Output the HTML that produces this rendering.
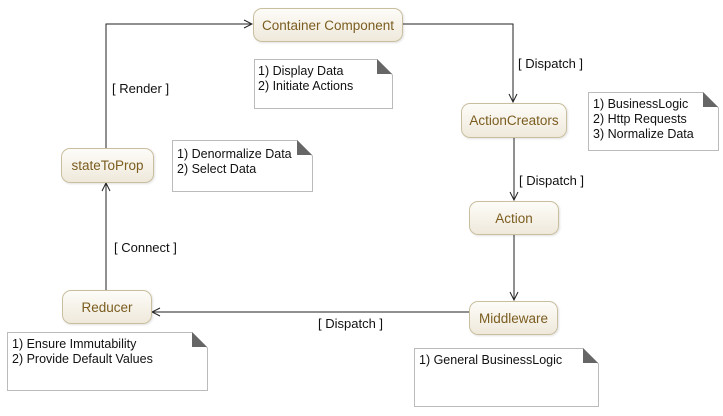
<!DOCTYPE html><html><head><style>
body{margin:0;width:723px;height:416px;background:#fff;position:relative;overflow:hidden;font-family:"Liberation Sans",sans-serif}
.n{position:absolute;box-sizing:border-box;border:1px solid #c9bf9f;border-radius:9px;background:linear-gradient(#fdfcf8,#efe9db);color:#7b5d20;font-size:13.5px;display:flex;align-items:center;justify-content:center;box-shadow:1px 1px 2px rgba(0,0,0,.12)}
.t{position:absolute;font-size:12.5px;color:#111;white-space:nowrap}
</style></head><body>
<svg width="723" height="416" style="position:absolute;left:0;top:0">
<defs><marker id="a" markerWidth="10" markerHeight="10" refX="9" refY="5" orient="auto" markerUnits="userSpaceOnUse"><path d="M1,1 L9,5 L1,9" fill="none" stroke="#222" stroke-width="1"/></marker></defs>
<g fill="none" stroke="#222" stroke-width="1">
<path d="M402,24 H513 V102" marker-end="url(#a)"/>
<path d="M514,137 V200" marker-end="url(#a)"/>
<path d="M514,234 V300" marker-end="url(#a)"/>
<path d="M469,312 H152" marker-end="url(#a)"/>
<path d="M106,290 V183" marker-end="url(#a)"/>
<path d="M106,148 V24 H252" marker-end="url(#a)"/>
</g>
<g fill="#fff" stroke="#bbb" stroke-width="1">
<path d="M254.5,59.5 H377 L392.5,75 V108.5 H254.5Z"/>
<path d="M588.5,92.5 H703 L718.5,108 V150.5 H588.5Z"/>
<path d="M172.5,140.5 H297 L312.5,156 V191.5 H172.5Z"/>
<path d="M7.5,332.5 H192 L207.5,348 V390.5 H7.5Z"/>
<path d="M414.5,348.5 H583 L598.5,364 V406.5 H414.5Z"/>
</g>
<g fill="#666"><path d="M377,59 L392,74 H377Z"/><path d="M703,92 L718,107 H703Z"/><path d="M297,140 L312,155 H297Z"/><path d="M192,332 L207,347 H192Z"/><path d="M583,348 L598,363 H583Z"/></g>
</svg>
<div class="n" style="left:253px;top:8px;width:150px;height:34px">Container Component</div>
<div class="n" style="left:461px;top:103px;width:106px;height:35px">ActionCreators</div>
<div class="n" style="left:469px;top:201px;width:90px;height:34px">Action</div>
<div class="n" style="left:469px;top:301px;width:89px;height:34px">Middleware</div>
<div class="n" style="left:62px;top:290px;width:90px;height:34px">Reducer</div>
<div class="n" style="left:61px;top:148px;width:93px;height:35px">stateToProp</div>
<div class="t" style="left:258px;top:64px;line-height:15px">1) Display Data<br>2) Initiate Actions</div>
<div class="t" style="left:593px;top:97px;line-height:15px">1) BusinessLogic<br>2) Http Requests<br>3) Normalize Data</div>
<div class="t" style="left:177px;top:147px;line-height:15px">1) Denormalize Data<br>2) Select Data</div>
<div class="t" style="left:12px;top:337px;line-height:15px">1) Ensure Immutability<br>2) Provide Default Values</div>
<div class="t" style="left:419px;top:353px">1) General BusinessLogic</div>
<div class="t" style="left:518px;top:56px;font-size:13px">[ Dispatch ]</div>
<div class="t" style="left:519px;top:173px;font-size:13px">[ Dispatch ]</div>
<div class="t" style="left:318px;top:316px;font-size:13px">[ Dispatch ]</div>
<div class="t" style="left:114px;top:240px;font-size:13px">[ Connect ]</div>
<div class="t" style="left:112px;top:81px;font-size:13px">[ Render ]</div>
</body></html>
